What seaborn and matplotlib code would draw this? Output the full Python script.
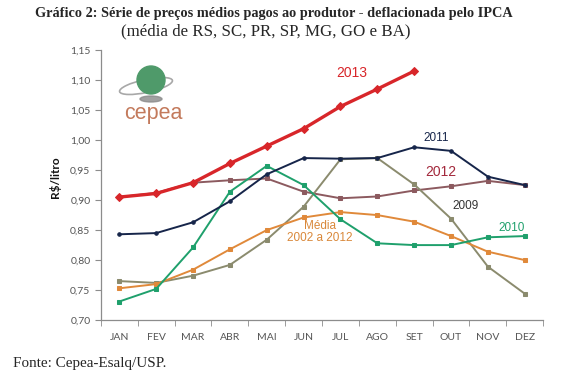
import numpy as np
import pandas as pd
import matplotlib
matplotlib.use("Agg")
import matplotlib.pyplot as plt
import seaborn as sns
from matplotlib.ticker import FuncFormatter, FixedLocator
from matplotlib.patches import Circle, Ellipse

# Data
meses = ['JAN', 'FEV', 'MAR', 'ABR', 'MAI', 'JUN', 'JUL', 'AGO', 'SET', 'OUT', 'NOV', 'DEZ']
p2009 = [0.765, 0.762, 0.774, 0.792, 0.834, 0.889, 0.968, 0.970, 0.926, 0.869, 0.789, 0.744]
p2010 = [0.731, 0.752, 0.821, 0.914, 0.957, 0.925, 0.868, 0.828, 0.825, 0.825, 0.838, 0.840]
p2011 = [0.843, 0.845, 0.863, 0.898, 0.943, 0.970, 0.969, 0.970, 0.988, 0.982, 0.939, 0.925]
p2012 = [0.905, 0.912, 0.929, 0.933, 0.936, 0.914, 0.903, 0.906, 0.916, 0.923, 0.932, 0.925]
p2013 = [0.905, 0.911, 0.929, 0.961, 0.990, 1.019, 1.056, 1.085, 1.115]
media = [0.753, 0.760, 0.784, 0.818, 0.850, 0.871, 0.880, 0.875, 0.864, 0.840, 0.814, 0.800]

sns.set_style("ticks")
plt.rcParams['font.family'] = ['Lato', 'DejaVu Sans']

fig = plt.figure(figsize=(5.70, 3.82), dpi=100)
ax = fig.add_axes([0.177, 0.162, 0.776, 0.707])

x = np.arange(len(meses))
series = [
    (p2012, '#8c5a5f', 's', 1.4, 2.5),
    (p2009, '#8b8b6e', 's', 1.4, 2.5),
    (media, '#e0893a', 's', 1.4, 2.5),
    (p2010, '#1fa06c', 's', 1.4, 2.5),
    (p2011, '#16254a', 'o', 1.4, 2.5),
    (p2013, '#d8262a', 'D', 2.4, 4.5),
]
for vals, col, mk, lw, ms in series:
    sns.lineplot(x=x[:len(vals)], y=vals, ax=ax, color=col, lw=lw,
                 marker=mk, markersize=ms, markeredgecolor=col)

ax.set_xlim(-0.5, 11.5)
ax.set_ylim(0.70, 1.15)
ax.set_yticks(np.arange(0.70, 1.151, 0.05))
ax.yaxis.set_major_formatter(FuncFormatter(lambda v, p: f"{v:.2f}".replace('.', ',')))
ax.set_xticks(x)
ax.set_xticklabels(meses)
ax.xaxis.set_minor_locator(FixedLocator(np.arange(-0.5, 12, 1)))
ax.tick_params(axis='x', which='major', length=0, pad=9)
ax.tick_params(axis='x', which='minor', length=4, color='#8c8c8c')
ax.tick_params(axis='y', length=4, color='#8c8c8c')
ax.tick_params(labelsize=7.5, labelcolor='#555555')
for s in ['top', 'right']:
    ax.spines[s].set_visible(False)
for s in ['left', 'bottom']:
    ax.spines[s].set_color('#8c8c8c')
    ax.spines[s].set_linewidth(0.9)

ax.set_ylabel('R$/litro', fontsize=8.5, fontweight='bold', color='#111111')
ax.yaxis.set_label_coords(-0.09, 0.53)

# series labels
ax.text(6.3, 1.112, '2013', color='#d8262a', fontsize=10, ha='center', va='center', family='Liberation Sans')
ax.text(8.59, 1.003, '2011', color='#16254a', fontsize=8.5, ha='center', va='center', family='Liberation Sans')
ax.text(8.72, 0.947, '2012', color='#a3293c', fontsize=10, ha='center', va='center', family='Liberation Sans')
ax.text(9.38, 0.890, '2009', color='#333333', fontsize=8.5, ha='center', va='center', family='Liberation Sans')
ax.text(10.65, 0.853, '2010', color='#1fa06c', fontsize=8.5, ha='center', va='center', family='Liberation Sans')
ax.text(5.45, 0.847, 'Média\n2002 a 2012', color='#d9883a', fontsize=8.5, ha='center', va='center',
        linespacing=1.0, family='Liberation Sans')

# logo
fig.patches.append(Ellipse((151, 382 - 99), 22, 6, transform=None, color='#8a8a8a', alpha=0.8))
fig.patches.append(Ellipse((146, 382 - 86), 54, 13, angle=12, transform=None, fill=False,
                           ec='#a8a8a8', lw=1.2))
fig.patches.append(Circle((151, 382 - 80), 14, transform=None, color='#4f9a6a'))
fig.text(153 / 570, 1 - 113 / 382, 'cepea', color='#c37a5c', fontsize=15.5, ha='center', va='center',
         family='Liberation Sans')

fig.text(274 / 570, 1 - 13 / 382,
         'Gráfico 2: Série de preços médios pagos ao produtor - deflacionada pelo IPCA',
         ha='center', va='center', fontsize=10.3, fontweight='bold', family='Liberation Serif')
fig.text(266 / 570, 1 - 31 / 382, '(média de RS, SC, PR, SP, MG, GO e BA)',
         ha='center', va='center', fontsize=12.2, family='Liberation Serif')
fig.text(13 / 570, 1 - 363 / 382, 'Fonte: Cepea-Esalq/USP.', ha='left', va='center',
         fontsize=10.9, family='Liberation Serif')

fig.savefig('out.png', dpi=100)
